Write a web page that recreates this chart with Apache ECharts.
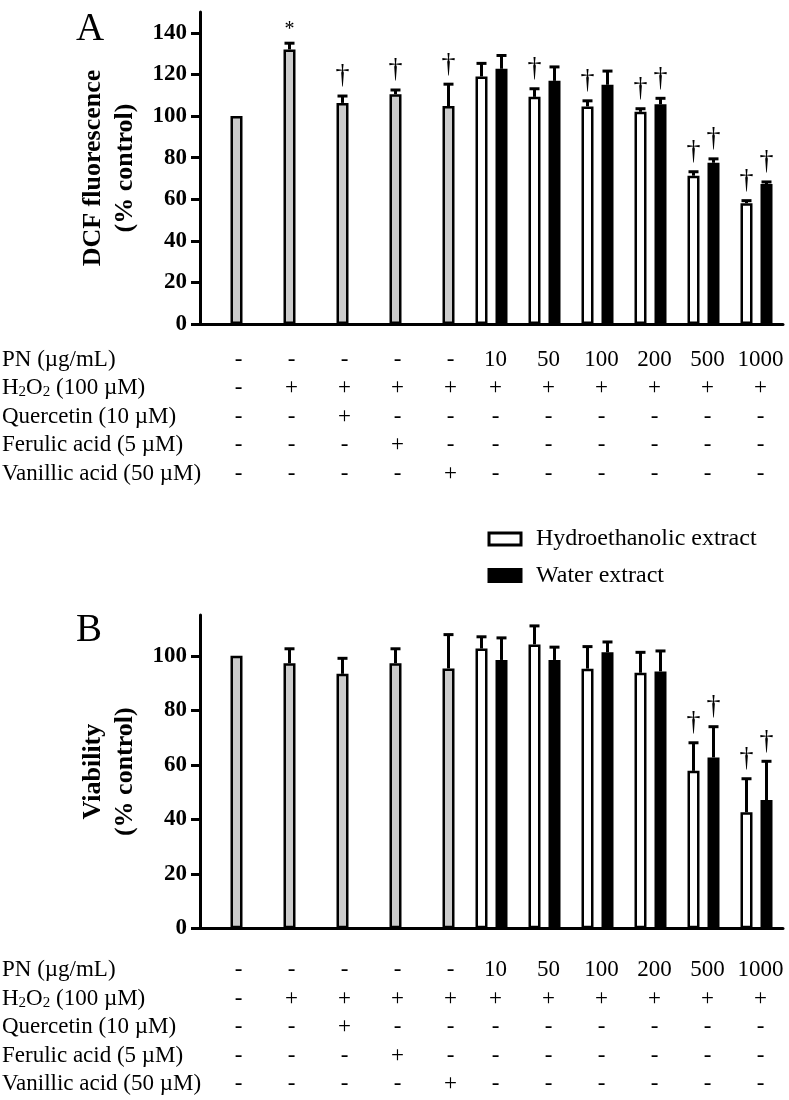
<!DOCTYPE html>
<html>
<head>
<meta charset="utf-8">
<script src="https://cdn.jsdelivr.net/npm/echarts@6/dist/echarts.min.js"></script>
<style>
html,body{margin:0;padding:0;background:#fff;}
#c{width:789px;height:1100px;}
</style>
</head>
<body>
<div id="c"></div>
<script>
// ---------------- DATA ----------------
const categories = ['Control', 'H2O2', 'Quercetin', 'Ferulic acid', 'Vanillic acid',
  'PN 10', 'PN 50', 'PN 100', 'PN 200', 'PN 500', 'PN 1000'];

// Table rows under each panel
const rowNames = ['PN (µg/mL)', 'H2O2 (100 µM)', 'Quercetin (10 µM)', 'Ferulic acid (5 µM)', 'Vanillic acid (50 µM)'];
const pnRow        = ['-', '-', '-', '-', '-', '10', '50', '100', '200', '500', '1000'];
const h2o2Row      = ['-', '+', '+', '+', '+', '+', '+', '+', '+', '+', '+'];
const quercetinRow = ['-', '-', '+', '-', '-', '-', '-', '-', '-', '-', '-'];
const ferulicRow   = ['-', '-', '-', '+', '-', '-', '-', '-', '-', '-', '-'];
const vanillicRow  = ['-', '-', '-', '-', '+', '-', '-', '-', '-', '-', '-'];

// Panel A: DCF fluorescence (% control)
const greyA      = [100, 132, 106.3, 110.5, 104.8];
const greyErrA   = [0, 3, 3.3, 2, 10.5];
const greySigA   = ['', '*', '†', '†', '†'];
const whiteA     = [119, 109.2, 104.6, 102, 71.3, 58.1];
const whiteErrA  = [6.3, 3.9, 2.7, 1.5, 1.9, 1.2];
const whiteSigA  = ['', '†', '†', '†', '†', '†'];
const blackA     = [122.7, 116.9, 115, 105.6, 77.5, 67.3];
const blackErrA  = [6.4, 6.7, 6.6, 2.9, 1.9, 1.0];
const blackSigA  = ['', '', '', '†', '†', '†'];
const yTicksA    = [0, 20, 40, 60, 80, 100, 120, 140];

// Panel B: Viability (% control)
const greyB      = [100, 97.3, 93.4, 97.3, 95.4];
const greyErrB   = [0, 5.3, 5.7, 5.3, 12.4];
const greySigB   = ['', '', '', '', ''];
const whiteB     = [102.7, 104.2, 95.3, 93.8, 57.8, 42.6];
const whiteErrB  = [4.3, 6.8, 8.1, 7.5, 10.3, 12.3];
const whiteSigB  = ['', '', '', '', '†', '†'];
const blackB     = [98.5, 98.5, 101.3, 94.3, 62.7, 47.1];
const blackErrB  = [8.1, 4.7, 3.8, 7.5, 11.3, 14.2];
const blackSigB  = ['', '', '', '', '†', '†'];
const yTicksB    = [0, 20, 40, 60, 80, 100];

// ---------------- STYLE ----------------
const FONT = '"Liberation Serif", "Times New Roman", Times, serif';
const GREY = '#cbcbcb';
const BAR_W = 12;
const BAR_GAP = 8;
const ROW_H = 28.6;
const tableRows = [pnRow, h2o2Row, quercetinRow, ferulicRow, vanillicRow];
const nGrey = greyA.length;

const panels = [
  { grid: {left: 200, top: 12, width: 583, height: 312}, max: 150, ticks: yTicksA,
    name: 'DCF fluorescence\n(% control)', letter: 'A', letterY: 30, firstRow: 359.5,
    grey: greyA, greyErr: greyErrA, greySig: greySigA,
    white: whiteA, whiteErr: whiteErrA, whiteSig: whiteSigA,
    black: blackA, blackErr: blackErrA, blackSig: blackSigA },
  { grid: {left: 200, top: 615, width: 583, height: 313.3}, max: 115, ticks: yTicksB,
    name: 'Viability\n(% control)', letter: 'B', letterY: 631, firstRow: 970,
    grey: greyB, greyErr: greyErrB, greySig: greySigB,
    white: whiteB, whiteErr: whiteErrB, whiteSig: whiteSigB,
    black: blackB, blackErr: blackErrB, blackSig: blackSigB }
];

const grids = [], xAxes = [], yAxes = [], series = [], graphics = [];

panels.forEach((p, pi) => {
  grids.push(p.grid);
  const axisBottom = p.grid.top + p.grid.height;
  xAxes.push({
    gridIndex: pi, type: 'category', data: categories,
    axisLine: {lineStyle: {color: '#000', width: 3}},
    axisTick: {alignWithLabel: true, length: 9, lineStyle: {color: '#000', width: 3}},
    splitLine: {show: false},
    axisLabel: {
      interval: 0, hideOverlap: false, verticalAlign: 'top',
      margin: p.firstRow - axisBottom - ROW_H / 2,
      formatter: (v, idx) => {
        const st = idx < nGrey ? 'a' : 'b';
        return tableRows.map(r => '{' + st + '|' + r[idx] + '}').join('\n');
      },
      rich: {
        a: {fontFamily: FONT, fontSize: 23, lineHeight: ROW_H, color: '#000', padding: [0, 0, 0, 24]},
        b: {fontFamily: FONT, fontSize: 23, lineHeight: ROW_H, color: '#000', padding: [0, 0, 0, 8]}
      }
    }
  });
  yAxes.push({
    gridIndex: pi, type: 'value', min: 0, max: p.max,
    name: p.name, nameLocation: 'middle', nameGap: 56,
    nameTextStyle: {fontFamily: FONT, fontSize: 26, fontWeight: 'bold', color: '#000', lineHeight: 32},
    axisLine: {show: true, lineStyle: {color: '#000', width: 3}},
    axisTick: {show: true, length: 9, customValues: p.ticks, lineStyle: {color: '#000', width: 3}},
    axisLabel: {customValues: p.ticks, margin: 13, fontFamily: FONT, fontSize: 23, fontWeight: 'bold', color: '#000'},
    splitLine: {show: false}
  });

  const whiteData = categories.map((c, i) => i < nGrey ? '-' : p.white[i - nGrey]);
  const blackData = categories.map((c, i) => i < nGrey
    ? {value: p.grey[i], itemStyle: {color: GREY}}
    : p.black[i - nGrey]);

  series.push({
    name: 'Hydroethanolic extract', type: 'bar', xAxisIndex: pi, yAxisIndex: pi,
    data: whiteData, barWidth: BAR_W, barGap: (BAR_GAP / BAR_W * 100) + '%',
    itemStyle: {color: '#fff', borderColor: '#000', borderWidth: 2.5}
  });
  series.push({
    name: 'Water extract', type: 'bar', xAxisIndex: pi, yAxisIndex: pi,
    data: blackData, barWidth: BAR_W, barGap: (BAR_GAP / BAR_W * 100) + '%',
    itemStyle: {color: '#000', borderColor: '#000', borderWidth: 2.5}
  });

  // error bars + significance marks
  const recs = [];
  categories.forEach((c, i) => {
    if (i < nGrey) recs.push({i, v: p.grey[i], e: p.greyErr[i], s: p.greySig[i], slot: 1});
    else {
      const k = i - nGrey;
      recs.push({i, v: p.white[k], e: p.whiteErr[k], s: p.whiteSig[k], slot: -1});
      recs.push({i, v: p.black[k], e: p.blackErr[k], s: p.blackSig[k], slot: 1});
    }
  });
  series.push({
    type: 'custom', xAxisIndex: pi, yAxisIndex: pi, z: 5, clip: false, silent: true,
    data: recs.map(r => [r.i, r.v, r.e]),
    renderItem: (params, api) => {
      const r = recs[params.dataIndex];
      const half = (BAR_W + BAR_GAP) / 2;
      const p0 = api.coord([api.value(0), api.value(1)]);
      const p1 = api.coord([api.value(0), api.value(1) + api.value(2)]);
      const x = p0[0] + r.slot * half;
      const children = [];
      if (api.value(2) > 0) {
        children.push({type: 'line', shape: {x1: x, y1: p0[1], x2: x, y2: p1[1]}, style: {stroke: '#000', lineWidth: 3}});
        children.push({type: 'line', shape: {x1: x - 5, y1: p1[1], x2: x + 5, y2: p1[1]}, style: {stroke: '#000', lineWidth: 3}});
      }
      if (r.s) {
        const isStar = r.s === '*';
        children.push({type: 'text', x: x, y: p1[1] - (isStar ? 13 : 20),
          style: {text: r.s, fontFamily: FONT, fontSize: isStar ? 20 : 28, fill: '#000', align: 'center', verticalAlign: 'middle'}});
      }
      return {type: 'group', children};
    }
  });

  // panel letter
  graphics.push({type: 'text', left: 76, top: p.letterY - 20,
    style: {text: p.letter, fontFamily: FONT, fontSize: 39, fill: '#000'}});
  // row names
  rowNames.forEach((n, ri) => {
    const isH = n.indexOf('H2O2') === 0;
    graphics.push({type: 'text', x: 2, y: p.firstRow + ri * ROW_H,
      style: {
        text: isH ? 'H{s|2}O{s|2} (100 µM)' : n,
        fontFamily: FONT, fontSize: 23, fill: '#000', verticalAlign: 'middle', align: 'left',
        rich: {s: {fontFamily: FONT, fontSize: 15, fill: '#000', verticalAlign: 'bottom', lineHeight: 22}}
      }});
  });
});

const chart = echarts.init(document.getElementById('c'), null, {renderer: 'canvas'});
chart.setOption({
  backgroundColor: '#fff',
  animation: false,
  grid: grids,
  xAxis: xAxes,
  yAxis: yAxes,
  legend: {
    orient: 'vertical', left: 487.5, top: 527, padding: 0,
    itemWidth: 32, itemHeight: 12, itemGap: 12.5, icon: 'rect', selectedMode: false,
    textStyle: {fontFamily: FONT, fontSize: 24, color: '#000', lineHeight: 14, padding: [0, 0, 0, 10]},
    data: [
      {name: 'Hydroethanolic extract', itemStyle: {color: '#fff', borderColor: '#000', borderWidth: 3}},
      {name: 'Water extract', itemStyle: {color: '#000', borderColor: '#000', borderWidth: 3}}
    ]
  },
  graphic: graphics,
  series: series
});
</script>
</body>
</html>
